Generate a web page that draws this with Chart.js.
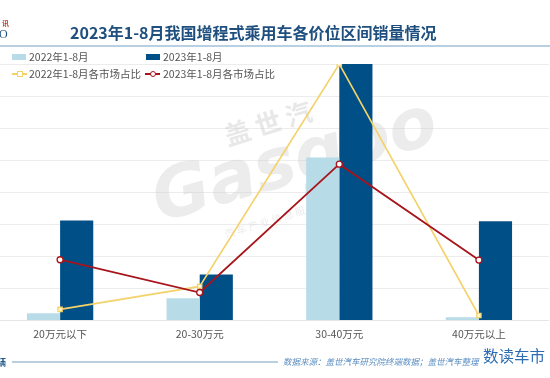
<!DOCTYPE html>
<html>
<head>
<meta charset="utf-8">
<script src="https://cdn.jsdelivr.net/npm/chart.js@4/dist/chart.umd.min.js"></script>
<style>
  html, body { margin: 0; padding: 0; background: #fff; }
  body { width: 550px; height: 378px; position: relative; overflow: hidden; font-family: "Noto Sans CJK SC", "Noto Sans", sans-serif; }
  #wrap { position: absolute; left: -15px; top: 0; width: 569px; height: 378px; }
  .t { position: absolute; white-space: nowrap; }
  .leg { position: absolute; font-size: 10.5px; color: #555; white-space: nowrap; line-height: 12px; }
  .box { position: absolute; width: 14px; height: 6px; }
  .ln { position: absolute; width: 15px; height: 2px; }
</style>
</head>
<body>
<div id="wrap"><canvas id="chart" width="569" height="378"></canvas></div>

<div class="t" style="left:2px;top:18px;font-size:7px;color:#c0392b;font-weight:bold;">讯</div>
<div class="t" style="left:-1px;top:27px;font-size:12px;color:#1e4f7e;font-family:'Liberation Serif',serif;">O</div>
<div class="t" id="title" style="left:70px;top:22px;font-size:16px;font-weight:bold;color:#1e4f7e;line-height:21px;">2023年1-8月我国增程式乘用车各价位区间销量情况</div>
<div style="position:absolute;left:0;top:45px;width:550px;height:1.5px;background:#b9cfe2;"></div>

<div class="box" style="left:12px;top:54px;background:#b8dce7;"></div>
<div class="leg" style="left:29px;top:51px;">2022年1-8月</div>
<div class="box" style="left:146px;top:54px;background:#004f87;"></div>
<div class="leg" style="left:163px;top:51px;">2023年1-8月</div>
<div class="ln" style="left:12px;top:73px;background:#f4d26a;"></div>
<div style="position:absolute;left:17px;top:71px;width:4px;height:4px;border:1px solid #f4d26a;background:#fff;"></div>
<div class="leg" style="left:29px;top:68px;">2022年1-8月各市场占比</div>
<div class="ln" style="left:145px;top:73px;background:#a8141c;"></div>
<div style="position:absolute;left:150px;top:71px;width:4px;height:4px;border:1px solid #a8141c;border-radius:50%;background:#fff;"></div>
<div class="leg" style="left:163px;top:68px;">2023年1-8月各市场占比</div>

<div class="t" style="left:-3px;top:356px;font-size:9px;color:#2a5d8f;font-weight:bold;">辆</div>
<div style="position:absolute;left:12px;top:361px;width:266px;height:1.5px;background:#b9cfe2;"></div>
<div class="t" style="left:283px;top:355px;font-size:8.5px;color:#5b8ec2;font-style:italic;">数据来源：盖世汽车研究院终端数据；盖世汽车整理</div>
<div class="t" style="left:483px;top:344px;font-size:15.5px;color:#2b6cb3;">数读车市</div>

<script>
const categories = ['20万元以下', '20-30万元', '30-40万元', '40万元以上'];
const sales2022 = [2200, 6900, 50800, 1000];
const sales2023 = [31200, 14300, 80000, 30900];
const share2022 = [3.6, 11.1, 83.7, 1.6];
const share2023 = [19.8, 9.1, 51.0, 19.7];
const salesTicks = { min: 0, max: 80000, step: 10000 };

const watermark = {
  id: 'watermark',
  beforeDatasetsDraw(chart) {
    const ctx = chart.ctx;
    ctx.save();
    ctx.translate(15, 0);
    ctx.fillStyle = 'rgba(205,205,205,0.45)';
    ctx.save();
    ctx.translate(228, 146);
    ctx.rotate(-0.3);
    ctx.font = 'bold 26px "Noto Sans CJK SC"';
    ctx.fillText('盖 世 汽', 0, 0);
    ctx.restore();
    ctx.save();
    ctx.translate(160, 222);
    ctx.rotate(-0.28);
    ctx.font = 'italic bold 70px "DejaVu Sans"';
    ctx.fillStyle = 'rgba(205,205,205,0.38)';
    ctx.fillText('Gasgoo', 0, 0);
    ctx.restore();
    ctx.save();
    ctx.translate(226, 238);
    ctx.rotate(-0.3);
    ctx.font = '10px "Noto Sans CJK SC"';
    ctx.fillStyle = 'rgba(205,205,205,0.4)';
    ctx.fillText('汽 车 产 业 信 息 服', 0, 0);
    ctx.restore();
    ctx.restore();
  }
};

new Chart(document.getElementById('chart'), {
  data: {
    labels: categories,
    datasets: [
      { type: 'line', label: '2023年1-8月各市场占比', data: share2023, yAxisID: 'y1', order: 0,
        borderColor: '#a8141c', borderWidth: 1.8, pointStyle: 'circle', pointRadius: 3,
        pointBackgroundColor: '#fff', pointBorderColor: '#a8141c', pointBorderWidth: 1.3, tension: 0 },
      { type: 'line', label: '2022年1-8月各市场占比', data: share2022, yAxisID: 'y1', order: 0.5,
        borderColor: '#f4d26a', borderWidth: 1.6, pointStyle: 'rect', pointRadius: 3,
        pointBackgroundColor: '#fff8d8', pointBorderColor: '#f4d26a', pointBorderWidth: 1.3, tension: 0 },
      { type: 'bar', label: '2022年1-8月', data: sales2022, yAxisID: 'y', order: 1,
        backgroundColor: '#b8dce7', barPercentage: 1, categoryPercentage: 0.475 },
      { type: 'bar', label: '2023年1-8月', data: sales2023, yAxisID: 'y', order: 1,
        backgroundColor: '#004f87', barPercentage: 1, categoryPercentage: 0.475 }
    ]
  },
  options: {
    responsive: false,
    animation: false,
    layout: { padding: { top: 64, bottom: 31, left: 0, right: 0 } },
    plugins: { legend: { display: false }, tooltip: { enabled: false } },
    elements: { line: { clip: false }, point: { clip: false } },
    scales: {
      x: {
        grid: { display: false, drawTicks: false },
        border: { display: true, color: '#e6e6e6' },
        ticks: { color: '#555', padding: 7, font: { size: 10.5, family: '"Noto Sans CJK SC"' } }
      },
      y: {
        min: salesTicks.min, max: salesTicks.max,
        ticks: { display: false, stepSize: salesTicks.step },
        grid: { color: '#ececec', drawTicks: false },
        border: { display: false }
      },
      y1: {
        display: false, min: 0, max: Math.max(...share2022, ...share2023)
      }
    }
  },
  plugins: [watermark]
});
</script>
</body>
</html>
